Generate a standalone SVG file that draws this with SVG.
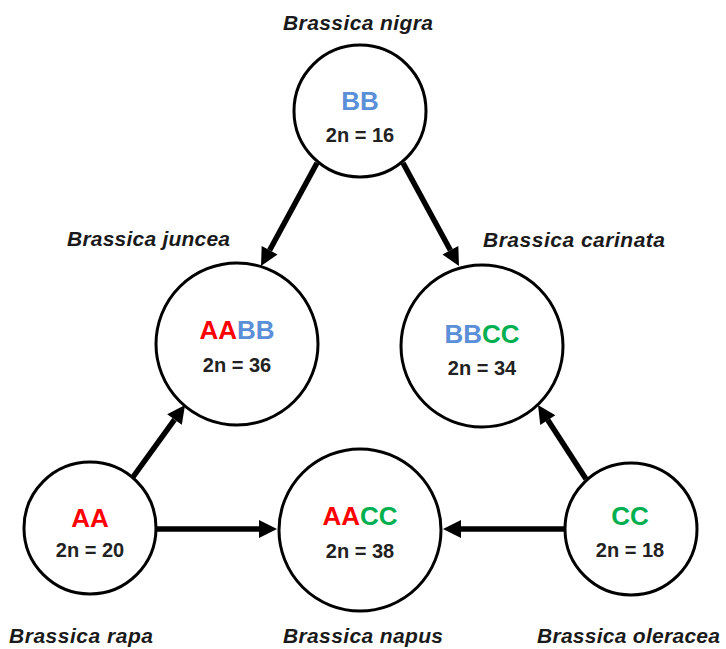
<svg xmlns="http://www.w3.org/2000/svg" width="726" height="649" viewBox="0 0 726 649">
<style>
.c{fill:#fff;stroke:#000;stroke-width:3}
.lbl{font-family:"Liberation Sans",Arial,sans-serif;font-weight:bold;font-style:italic;font-size:21px;fill:#1a1a1a;text-anchor:middle}
.g{font-family:"Liberation Sans",Arial,sans-serif;font-weight:bold;font-size:26px;text-anchor:middle}
.n{font-family:"Liberation Sans",Arial,sans-serif;font-weight:bold;font-size:20px;fill:#222;text-anchor:middle}
.A{fill:#ff0000}.B{fill:#5b8fd8}.C{fill:#00b050}
.e{stroke:#000;stroke-width:5.5;fill:none;marker-end:url(#ah)}
</style>
<defs>
<marker id="ah" markerUnits="userSpaceOnUse" viewBox="0 -10 20 20" markerWidth="20" markerHeight="20" refX="0" refY="0" orient="auto" overflow="visible">
<path d="M0,-9 L18,0 L0,9 z" fill="#000"/>
</marker>
</defs>
<rect width="726" height="649" fill="#fff"/>
<g id="connectors">
<line class="e" x1="317" y1="163" x2="269.6" y2="250.2"/>
<line class="e" x1="403" y1="163" x2="450.4" y2="250.2"/>
<line class="e" x1="133" y1="477" x2="174.5" y2="419.6"/>
<line class="e" x1="586" y1="479" x2="547.8" y2="420.1"/>
<line class="e" x1="157" y1="529" x2="259" y2="529"/>
<line class="e" x1="565" y1="529" x2="461" y2="529"/>
</g>
<g id="nigra">
<circle class="c" cx="360" cy="111" r="66"/>
<text class="lbl" x="358" y="30" textLength="150">Brassica nigra</text>
<text class="g" x="360" y="110"><tspan class="B">BB</tspan></text>
<text class="n" x="360" y="142">2n = 16</text>
</g>
<g id="juncea">
<circle class="c" cx="237" cy="344" r="81"/>
<text class="lbl" x="148.5" y="246" textLength="163">Brassica juncea</text>
<text class="g" x="237" y="339"><tspan class="A">AA</tspan><tspan class="B">BB</tspan></text>
<text class="n" x="237" y="372">2n = 36</text>
</g>
<g id="carinata">
<circle class="c" cx="482" cy="346" r="81"/>
<text class="lbl" x="574" y="247" textLength="182">Brassica carinata</text>
<text class="g" x="482" y="343"><tspan class="B">BB</tspan><tspan class="C">CC</tspan></text>
<text class="n" x="482" y="375">2n = 34</text>
</g>
<g id="rapa">
<circle class="c" cx="90" cy="528" r="66"/>
<text class="lbl" x="81" y="643" textLength="144">Brassica rapa</text>
<text class="g" x="90" y="527"><tspan class="A">AA</tspan></text>
<text class="n" x="90" y="557">2n = 20</text>
</g>
<g id="napus">
<circle class="c" cx="360" cy="530" r="81"/>
<text class="lbl" x="363" y="643" textLength="160">Brassica napus</text>
<text class="g" x="360" y="525"><tspan class="A">AA</tspan><tspan class="C">CC</tspan></text>
<text class="n" x="360" y="558">2n = 38</text>
</g>
<g id="oleracea">
<circle class="c" cx="631" cy="529" r="66"/>
<text class="lbl" x="628.5" y="643" textLength="183">Brassica oleracea</text>
<text class="g" x="630" y="525"><tspan class="C">CC</tspan></text>
<text class="n" x="630" y="557">2n = 18</text>
</g>
</svg>
